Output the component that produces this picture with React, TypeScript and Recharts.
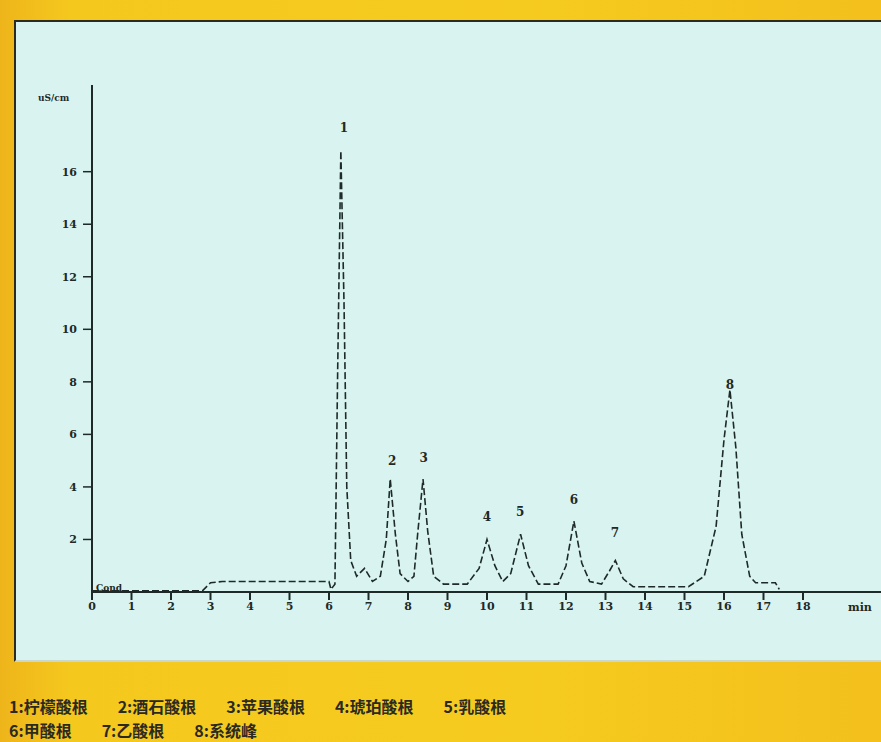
import React from 'react';
import { LineChart, Line, XAxis, YAxis, ReferenceDot } from 'recharts';

// retention time (min) and conductivity (uS/cm)
const times = [0, 2.8, 3.0, 3.3, 6.0, 6.05, 6.15, 6.22, 6.3, 6.38, 6.45, 6.55, 6.7, 6.9, 7.1, 7.3, 7.45, 7.55, 7.68, 7.8, 8.0, 8.15, 8.25, 8.38, 8.5, 8.65, 8.9, 9.5, 9.8, 10.0, 10.2, 10.4, 10.6, 10.85, 11.05, 11.3, 11.8, 12.0, 12.2, 12.4, 12.6, 12.9, 13.1, 13.25, 13.45, 13.7, 15.1, 15.5, 15.8, 16.0, 16.15, 16.3, 16.45, 16.65, 16.8, 17.3, 17.4];
const signal = [0.05, 0.05, 0.35, 0.4, 0.4, 0.1, 0.3, 8.5, 16.8, 11, 4, 1.2, 0.6, 0.9, 0.4, 0.6, 2.0, 4.3, 2.2, 0.7, 0.4, 0.6, 2.3, 4.3, 2.3, 0.6, 0.3, 0.3, 0.9, 2.0, 1.0, 0.4, 0.7, 2.2, 1.0, 0.3, 0.3, 1.0, 2.7, 1.1, 0.4, 0.3, 0.8, 1.2, 0.5, 0.2, 0.2, 0.6, 2.5, 5.8, 7.7, 5.5, 2.2, 0.6, 0.35, 0.35, 0.1];

const peakNames = ['1', '2', '3', '4', '5', '6', '7', '8'];
const peakTimes = [6.38, 7.6, 8.4, 10.0, 10.84, 12.2, 13.24, 16.15];
const peakLabelY = [17.66, 5.0, 5.1, 2.85, 3.05, 3.5, 2.25, 7.9];

const xTicks = [0, 1, 2, 3, 4, 5, 6, 7, 8, 9, 10, 11, 12, 13, 14, 15, 16, 17, 18];
const yTicks = [2, 4, 6, 8, 10, 12, 14, 16];

const legendLines = [
  ['1:柠檬酸根', '2:酒石酸根', '3:苹果酸根', '4:琥珀酸根', '5:乳酸根'],
  ['6:甲酸根', '7:乙酸根', '8:系统峰'],
];

const data = times.map((t, i) => ({ t, v: signal[i] }));

const ink = '#1d2a28';
const tickFont = { fontFamily: 'DejaVu Serif, serif', fontSize: 11, fontWeight: 700, fill: ink };

export default function App() {
  return (
    <div style={{ position: 'absolute', left: 0, top: 0, width: 881, height: 742, overflow: 'hidden', background: 'linear-gradient(90deg, #eeb51a 0%, #f5c81e 8%, #f6cb1f 60%, #f3c01c 100%)' }}>
      <div style={{ position: 'absolute', left: 14, top: 20, width: 880, height: 642, background: '#d9f4f0', borderTop: '2px solid #2b2b22', borderLeft: '2px solid #2b2b22', borderBottom: '2px solid #c9d8cf', boxSizing: 'border-box' }} />
      <div style={{ position: 'absolute', left: 38, top: 93, fontFamily: 'DejaVu Serif, serif', fontSize: 9, fontWeight: 700, color: ink }}>uS/cm</div>
      <div style={{ position: 'absolute', left: 96, top: 583, fontFamily: 'DejaVu Serif, serif', fontSize: 9, fontWeight: 700, color: ink }}>Cond</div>
      <div style={{ position: 'absolute', left: 848, top: 601, fontFamily: 'DejaVu Serif, serif', fontSize: 11, fontWeight: 700, color: ink }}>min</div>
      <div style={{ position: 'absolute', left: 0, top: 0 }}>
        <LineChart width={890} height={742} data={data} margin={{ top: 85, right: 8, left: 52, bottom: 120 }}>
          <XAxis dataKey="t" type="number" domain={[0, 20]} ticks={xTicks} allowDataOverflow interval={0}
            stroke={ink} strokeWidth={2} tickSize={8} tick={tickFont} tickLine={{ stroke: ink, strokeWidth: 2 }} height={30} />
          <YAxis type="number" domain={[0, 19.3]} ticks={yTicks} allowDataOverflow width={40}
            stroke={ink} strokeWidth={2} tickSize={9} tick={{ ...tickFont, dx: -4 }} tickLine={{ stroke: ink, strokeWidth: 1.5 }} />
          <Line dataKey="v" type="linear" stroke={ink} strokeWidth={1.6} strokeDasharray="7 3" dot={false} isAnimationActive={false} />
          {peakNames.map((n, i) => (
            <ReferenceDot key={n} x={peakTimes[i]} y={peakLabelY[i]} r={0} stroke="none" fill="none"
              label={{ value: n, position: 'center', fill: ink, fontSize: 12, fontWeight: 700, fontFamily: 'DejaVu Serif, serif' }} />
          ))}
        </LineChart>
      </div>
      {legendLines.map((line, li) => (
        <div key={li} style={{ position: 'absolute', left: 9, top: 696 + li * 24, display: 'flex', gap: 30, fontFamily: '"Noto Sans CJK SC", sans-serif', fontSize: 16, fontWeight: 700, color: '#2a2a22', lineHeight: '20px' }}>
          {line.map((s) => <span key={s}>{s}</span>)}
        </div>
      ))}
    </div>
  );
}
